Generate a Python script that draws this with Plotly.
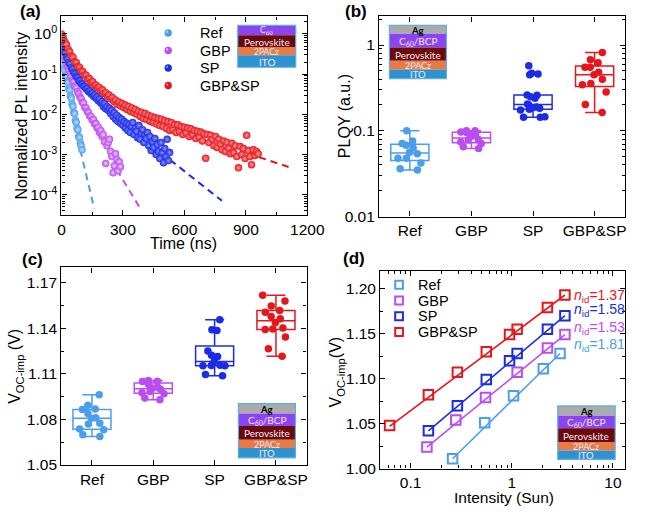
import plotly.graph_objects as go

W, H = 646, 515
FONT = "Liberation Sans"

NAMES = ["Ref", "GBP", "SP", "GBP&SP"]
COLORS = ["#4A9EEA", "#BB4CEE", "#1B2BE6", "#E5161C"]
TINTS = ["#BFE0FF", "#EFCBFF", "#8C96FF", "#FF9E9E"]

# ---------------- (a) TRPL decay ----------------
T_REF = [0, 4, 8, 12, 16, 20, 24, 28, 32, 36, 40, 44, 48, 52, 56, 60, 64, 68, 72, 76,
         80, 84, 88, 92, 96, 100]
PL_REF = [2.63e-1, 2.00e-1, 1.82e-1, 1.38e-1, 1.26e-1, 9.55e-2, 8.91e-2, 6.61e-2, 6.17e-2, 4.47e-2,
          3.98e-2, 2.82e-2, 2.51e-2, 1.78e-2, 1.58e-2, 1.12e-2, 1.05e-2, 7.08e-3, 6.31e-3, 4.47e-3,
          4.17e-3, 2.82e-3, 2.63e-3, 1.91e-3, 1.66e-3, 1.32e-3]

T_GBP = [0, 6, 12, 18, 24, 30, 36, 42, 48, 54, 60, 66, 72, 78, 84, 90, 96, 102, 108, 114,
         120, 126, 132, 138, 144, 150, 156, 162, 168, 174, 180, 186, 192, 198, 204, 210, 216,
         222, 228, 234, 240, 246, 252, 258, 264, 270, 276, 282, 288]
PL_GBP = [4.17e-1, 3.24e-1, 2.82e-1, 2.19e-1, 1.95e-1, 1.48e-1, 1.32e-1, 1.00e-1, 8.91e-2,
          7.08e-2, 6.46e-2, 5.13e-2, 4.68e-2, 3.63e-2, 3.24e-2, 2.69e-2, 2.45e-2, 2.00e-2, 1.91e-2,
          1.48e-2, 1.45e-2, 1.17e-2, 1.12e-2, 9.12e-3, 8.91e-3, 7.24e-3, 7.41e-3, 5.75e-3, 5.89e-3,
          4.57e-3, 4.79e-3, 3.55e-3, 3.98e-3, 2.82e-3, 3.16e-3, 2.09e-3, 6.03e-4, 1.66e-3, 2.00e-3,
          2.40e-3, 1.20e-3, 8.91e-4, 3.55e-4, 5.25e-4, 1.05e-3, 7.59e-4, 3.98e-4, 6.61e-4, 5.01e-4]

T_SP = [0, 6, 12, 18, 24, 30, 36, 42, 48, 54, 60, 66, 72, 78, 84, 90, 96, 102, 108, 114,
        120, 126, 132, 138, 144, 150, 156, 162, 168, 174, 180, 186, 192, 198, 204, 210, 216,
        222, 228, 234, 240, 246, 252, 258, 264, 270, 276, 282, 288, 294, 300, 306, 312, 318,
        324, 330, 336, 342, 348, 354, 360, 366, 372, 378, 384, 390, 396, 402, 408, 414, 420,
        426, 432, 438, 444, 450, 456, 462, 468, 474, 480, 486, 492, 498, 504, 510, 516, 522, 528]
PL_SP = [6.31e-1, 5.13e-1, 3.89e-1, 3.39e-1, 2.69e-1, 2.40e-1, 1.95e-1, 1.78e-1, 1.45e-1, 1.32e-1,
         1.10e-1, 1.02e-1, 8.71e-2, 8.13e-2, 7.08e-2, 6.76e-2, 5.89e-2, 5.62e-2, 5.01e-2, 4.90e-2,
         4.27e-2, 4.37e-2, 3.72e-2, 3.80e-2, 3.24e-2, 3.39e-2, 2.82e-2, 3.02e-2, 2.51e-2, 2.69e-2,
         2.19e-2, 2.40e-2, 1.91e-2, 2.09e-2, 1.58e-2, 1.86e-2, 1.38e-2, 1.58e-2, 1.26e-2, 1.41e-2,
         1.05e-2, 1.26e-2, 8.91e-3, 1.10e-2, 7.59e-3, 9.55e-3, 6.61e-3, 8.32e-3, 6.03e-3, 7.59e-3,
         5.37e-3, 6.61e-3, 4.57e-3, 6.03e-3, 3.98e-3, 5.62e-3, 3.55e-3, 5.01e-3, 6.31e-3, 3.16e-3,
         4.47e-3, 3.80e-3, 2.63e-3, 5.25e-3, 2.40e-3, 3.47e-3, 4.17e-3, 2.00e-3, 3.02e-3, 2.51e-3,
         3.55e-3, 1.66e-3, 2.82e-3, 1.26e-3, 2.09e-3, 1.51e-3, 2.51e-3, 1.00e-3, 1.78e-3, 1.20e-3,
         7.94e-4, 2.00e-3, 1.12e-3, 6.31e-4, 1.41e-3, 8.91e-4, 2.40e-3, 7.08e-4, 1.12e-3]

T_GS = [0, 8, 16, 24, 32, 40, 48, 56, 64, 72, 80, 88, 96, 104, 112, 120, 128, 136, 144, 152,
        160, 168, 176, 184, 192, 200, 208, 216, 224, 232, 240, 248, 256, 264, 272, 280, 288, 296,
        304, 312, 320, 328, 336, 344, 352, 360, 368, 376, 384, 392, 400, 408, 416, 424, 432, 440,
        448, 456, 464, 472, 480, 488, 496, 504, 512, 520, 528, 536, 544, 552, 560, 568, 576, 584,
        592, 600, 608, 616, 624, 632, 640, 648, 656, 664, 672, 680, 688, 696, 704, 712, 720, 728,
        736, 744, 752, 760, 768, 776, 784, 792, 800, 808, 816, 824, 832, 840, 848, 856, 864, 872,
        880, 888, 896, 904, 912, 920, 928, 936, 944, 952, 960]
PL_GS = [1.00, 8.32e-1, 6.31e-1, 5.50e-1, 4.17e-1, 3.63e-1, 2.82e-1, 2.63e-1, 2.04e-1, 1.95e-1,
         1.55e-1, 1.48e-1, 1.20e-1, 1.17e-1, 9.55e-2, 9.33e-2, 7.59e-2, 7.76e-2, 6.31e-2, 6.46e-2,
         5.25e-2, 5.37e-2, 4.57e-2, 4.68e-2, 3.89e-2, 4.07e-2, 3.31e-2, 3.47e-2, 2.82e-2, 3.02e-2,
         2.40e-2, 2.63e-2, 2.09e-2, 2.29e-2, 1.78e-2, 2.04e-2, 1.62e-2, 1.86e-2, 1.48e-2, 1.70e-2,
         1.32e-2, 1.58e-2, 1.20e-2, 1.45e-2, 1.10e-2, 1.32e-2, 1.00e-2, 1.20e-2, 8.91e-3, 1.12e-2,
         7.94e-3, 1.05e-2, 7.41e-3, 9.55e-3, 6.76e-3, 8.91e-3, 6.31e-3, 8.32e-3, 5.75e-3, 7.94e-3,
         5.25e-3, 7.59e-3, 5.01e-3, 6.92e-3, 4.47e-3, 6.61e-3, 3.98e-3, 6.31e-3, 4.17e-3, 5.62e-3,
         3.55e-3, 5.50e-3, 3.80e-3, 5.01e-3, 3.16e-3, 4.79e-3, 3.47e-3, 4.57e-3, 2.82e-3, 4.37e-3,
         3.16e-3, 3.98e-3, 2.51e-3, 3.80e-3, 2.75e-3, 3.63e-3, 2.19e-3, 3.31e-3, 8.13e-4, 3.16e-3,
         2.00e-3, 3.02e-3, 2.40e-3, 1.66e-3, 2.82e-3, 1.51e-3, 2.40e-3, 1.82e-3, 1.32e-3, 2.19e-3,
         1.20e-3, 2.00e-3, 1.45e-3, 1.05e-3, 1.91e-3, 1.12e-3, 1.66e-3, 8.91e-4, 4.68e-4, 1.58e-3,
         1.00e-3, 1.41e-3, 7.94e-4, 3.02e-3, 1.26e-3, 8.91e-4, 5.62e-4, 1.32e-3, 9.55e-4, 1.20e-3,
         1.05e-3]

# dashed fit tails (start / end)
FIT_REF_T, FIT_REF_PL = [92, 160], [1.3e-3, 4.5e-5]
FIT_GBP_T, FIT_GBP_PL = [270, 381], [4.2e-4, 4.9e-5]
FIT_SP_T, FIT_SP_PL = [530, 783], [7.4e-4, 7.1e-5]
FIT_GS_T, FIT_GS_PL = [965, 1121], [8.6e-4, 4.7e-4]

# ---------------- (b) PLQY ----------------
PLQY_REF = [0.035, 0.036, 0.042, 0.048, 0.048, 0.054, 0.056, 0.063, 0.068, 0.071, 0.076, 0.100]
PLQY_GBP = [0.062, 0.065, 0.071, 0.074, 0.078, 0.079, 0.086, 0.091, 0.095, 0.097, 0.100, 0.100]
PLQY_SP = [0.144, 0.144, 0.146, 0.175, 0.178, 0.183, 0.186, 0.190, 0.200, 0.205, 0.240, 0.250,
           0.260, 0.262, 0.450, 0.460, 0.470, 0.574]
PLQY_GS = [0.163, 0.203, 0.284, 0.344, 0.355, 0.400, 0.449, 0.480, 0.550, 0.550, 0.620, 0.673, 0.817]

# ---------------- (c) VOC-imp ----------------
VOC_REF = [1.0688, 1.0699, 1.0731, 1.0736, 1.0770, 1.0775, 1.0807, 1.0811, 1.0839, 1.0865,
           1.0868, 1.0893, 1.0963]
VOC_GBP = [1.0930, 1.0941, 1.0969, 1.0976, 1.0984, 1.0998, 1.1006, 1.1012, 1.1030, 1.1050,
           1.1051, 1.1056]
VOC_SP = [1.1088, 1.1095, 1.1153, 1.1153, 1.1155, 1.1157, 1.1181, 1.1214, 1.1222, 1.1250,
          1.1385, 1.1390, 1.1456]
VOC_GS = [1.1215, 1.1265, 1.1343, 1.1391, 1.1395, 1.1402, 1.1438, 1.1462, 1.1477, 1.1505,
          1.1516, 1.1547, 1.1579, 1.1618]

# ---------------- (d) VOC-imp vs intensity ----------------
I_REF = [0.26, 0.54, 1.04, 2.05, 3.0]
V_REF = [1.011, 1.051, 1.081, 1.111, 1.128]
I_GBP = [0.145, 0.28, 0.55, 1.13, 2.25, 3.35]
V_GBP = [1.024, 1.054, 1.079, 1.107, 1.134, 1.149]
I_SP = [0.15, 0.29, 0.56, 0.95, 1.13, 2.25, 3.35]
V_SP = [1.042, 1.070, 1.099, 1.120, 1.128, 1.155, 1.170]
I_GS = [0.062, 0.15, 0.29, 0.56, 0.95, 1.13, 2.25, 3.35]
V_GS = [1.048, 1.082, 1.107, 1.130, 1.149, 1.155, 1.179, 1.193]
FIT_D_I = [[0.26, 3.0], [0.145, 3.35], [0.15, 3.35], [0.062, 3.35]]
FIT_D_V = [[1.011, 1.128], [1.024, 1.149], [1.042, 1.170], [1.047, 1.193]]
NID = ["1.81", "1.53", "1.58", "1.37"]

A_T = [T_REF, T_GBP, T_SP, T_GS]
A_PL = [PL_REF, PL_GBP, PL_SP, PL_GS]
for t, v in zip(A_T, A_PL):
    assert len(t) == len(v), (len(t), len(v))


def px(x):
    return x / W


def py(y):
    return 1 - y / H


fig = go.Figure()

# (a) dashed fits then points
for t, v, c in zip([FIT_REF_T, FIT_GBP_T, FIT_SP_T, FIT_GS_T],
                   [FIT_REF_PL, FIT_GBP_PL, FIT_SP_PL, FIT_GS_PL], COLORS):
    fig.add_trace(go.Scatter(x=t, y=v, mode="lines", xaxis="x", yaxis="y",
                             line=dict(color=c, width=2, dash="7px,5px"), hoverinfo="skip"))
for t, v, c, tint, n in zip(A_T, A_PL, COLORS, TINTS, NAMES):
    fig.add_trace(go.Scatter(x=t, y=v, mode="markers", name=n, xaxis="x", yaxis="y",
                             marker=dict(size=7.5, color=c, line=dict(width=0),
                                         gradient=dict(type="radial", color=tint))))

# (b) PLQY boxes
for n, vals, c in zip(NAMES, [PLQY_REF, PLQY_GBP, PLQY_SP, PLQY_GS], COLORS):
    fig.add_trace(go.Box(y=vals, name=n, x0=n, xaxis="x2", yaxis="y2", boxpoints="all",
                         jitter=0.8, pointpos=0, width=0.62, whiskerwidth=0.5,
                         fillcolor="rgba(255,255,255,0)", line=dict(color=c, width=1.5),
                         marker=dict(color=c, size=7.5, line=dict(width=0))))

# (c) VOC boxes
for n, vals, c in zip(NAMES, [VOC_REF, VOC_GBP, VOC_SP, VOC_GS], COLORS):
    fig.add_trace(go.Box(y=vals, name=n, x0=n, xaxis="x3", yaxis="y3", boxpoints="all",
                         jitter=0.8, pointpos=0, width=0.62, whiskerwidth=0.5,
                         fillcolor="rgba(255,255,255,0)", line=dict(color=c, width=1.5),
                         marker=dict(color=c, size=7.5, line=dict(width=0))))

# (d) fits + squares
for fi, fv, c in zip(FIT_D_I, FIT_D_V, COLORS):
    fig.add_trace(go.Scatter(x=fi, y=fv, mode="lines", xaxis="x4", yaxis="y4",
                             line=dict(color=c, width=1.6), hoverinfo="skip"))
for xi, yv, c, n in zip([I_REF, I_GBP, I_SP, I_GS], [V_REF, V_GBP, V_SP, V_GS], COLORS, NAMES):
    fig.add_trace(go.Scatter(x=xi, y=yv, mode="markers", name=n, xaxis="x4", yaxis="y4",
                             marker=dict(symbol="square-open", size=9.5, color=c,
                                         line=dict(width=2, color=c))))

TF = dict(family=FONT, size=15.5, color="black")


def axis(**kw):
    d = dict(showline=True, linecolor="black", linewidth=1.3, mirror="ticks", ticks="inside",
             ticklen=5, tickwidth=1.2, tickcolor="black", showgrid=False, zeroline=False,
             tickfont=TF)
    d.update(kw)
    return d


def minor(dt):
    return dict(ticks="inside", ticklen=3, tickwidth=1, tickcolor="black", showgrid=False, dtick=dt)


fig.update_layout(
    width=W, height=H, margin=dict(l=0, r=0, t=0, b=0),
    paper_bgcolor="white", plot_bgcolor="white", showlegend=False,
    font=dict(family=FONT, size=15, color="black"),
    xaxis=axis(domain=[px(59.5), px(314)], anchor="y", range=[0, 1200], tick0=0, dtick=300,
               minor=minor(150)),
    yaxis=axis(domain=[py(218.3), py(16.7)], anchor="x", type="log", range=[-4.5, 0.435],
               tickvals=[1e-4, 1e-3, 1e-2, 1e-1, 1],
               ticktext=["10<sup>-4</sup>", "10<sup>-3</sup>", "10<sup>-2</sup>",
                         "10<sup>-1</sup>", "10<sup>0</sup>"],
               minor=minor("D1")),
    xaxis2=axis(domain=[px(388.3), px(643.3)], anchor="y2", type="category",
                range=[-0.5, 3.5]),
    yaxis2=axis(domain=[py(220), py(16.7)], anchor="x2", type="log", range=[-2, 0.333],
                tickvals=[0.01, 0.1, 1], ticktext=["0.01", "0.1", "1"], minor=minor("D1")),
    xaxis3=axis(domain=[px(59.3), px(313.3)], anchor="y3", type="category",
                range=[-0.5, 3.5]),
    yaxis3=axis(domain=[py(472.3), py(271.7)], anchor="x3", range=[1.05, 1.18], tick0=1.05,
                dtick=0.03, tickformat=".2f", minor=minor(0.015)),
    xaxis4=axis(domain=[px(389.5), px(643)], anchor="y4", type="log", range=[-1.3, 1.12],
                tickvals=[0.1, 1, 10], ticktext=["0.1", "1", "10"], minor=minor("D1")),
    yaxis4=axis(domain=[py(476), py(275)], anchor="x4", range=[1.0, 1.22], tick0=1.0,
                dtick=0.05, tickformat=".2f", minor=minor(0.025)),
)

ann = []
shapes = []


def text(t, x, y, size=16, color="black", anchor="center", angle=0, family=FONT):
    ann.append(dict(text=t, x=px(x), y=py(y), xref="paper", yref="paper", showarrow=False,
                    xanchor=anchor, yanchor="middle", textangle=angle, borderpad=0,
                    font=dict(family=family, size=size, color=color)))


# panel labels
text("<b>(a)</b>", 27, 12, 17)
text("<b>(b)</b>", 364, 12, 17)
text("<b>(c)</b>", 30, 264, 17)
text("<b>(d)</b>", 362, 263, 17)

# axis titles
text("Normalized PL intensity", 18.5, 117.5, 16, angle=-90)
text("Time (ns)", 186, 247, 16)
text("PLQY (a.u.)", 352, 118, 16, angle=-90)
text("V<sub>OC-imp</sub> (V)", 12, 372, 16, angle=-90)
text("V<sub>OC-imp</sub>(V)", 344, 378, 16, angle=-90)
text("Intensity (Sun)", 518, 505, 15.5)

# legend (a)
for i, (n, c) in enumerate(zip(NAMES, COLORS)):
    cy = 33.5 + i * 17.8
    r = 3.8
    shapes.append(dict(type="circle", xref="paper", yref="paper", x0=px(170 - r), x1=px(170 + r),
                       y0=py(cy + r), y1=py(cy - r), fillcolor=c, line=dict(width=0)))
    shapes.append(dict(type="circle", xref="paper", yref="paper", x0=px(167.8), x1=px(170),
                       y0=py(cy), y1=py(cy - 2.2), fillcolor=TINTS[i], line=dict(width=0)))
    text(n, 201.5, cy, 14.5, anchor="left")

# legend (d)
for i, (n, c) in enumerate(zip(NAMES, COLORS)):
    cy = 289.3 + i * 16
    h = 4
    shapes.append(dict(type="rect", xref="paper", yref="paper", x0=px(409 - h), x1=px(409 + h),
                       y0=py(cy + h), y1=py(cy - h), fillcolor="rgba(0,0,0,0)",
                       line=dict(color=c, width=2)))
    text(n, 428, cy, 14.5, anchor="left")

# ideality labels (d)
NID_Y = [350, 332.7, 315, 300.7]
for lab, c, yy in zip(NID, COLORS, NID_Y):
    text("<i>n</i><sub>id</sub>=" + lab, 589, yy, 14, color=c, anchor="left")

# device insets
AG, C60C, PERO, PACZ, ITOC, BORDER = "#ABABAB", "#8B44F2", "#6A0A0A", "#E97A44", "#2E92CE", "#5AAEEA"
LT = "#F6E9F6"


def stack(x0, x1, layers):
    for (y0, y1, col, t, tc, sz, bold) in layers:
        shapes.append(dict(type="rect", xref="paper", yref="paper", x0=px(x0), x1=px(x1),
                           y0=py(y1), y1=py(y0), fillcolor=col, line=dict(width=0), layer="above"))
        text("<b>" + t + "</b>" if bold else t, (x0 + x1) / 2, (y0 + y1) / 2 + 0.5, sz, color=tc,
             family="Lato")
    shapes.append(dict(type="rect", xref="paper", yref="paper", x0=px(x0), x1=px(x1),
                       y0=py(layers[-1][1]), y1=py(layers[0][0]), fillcolor="rgba(0,0,0,0)",
                       line=dict(color=BORDER, width=1.2), layer="above"))


stack(242, 302, [(25.7, 35.7, C60C, "C<sub>60</sub>", LT, 8.5, False),
                 (35.7, 47.7, PERO, "Perovskite", LT, 10, False),
                 (47.7, 56, PACZ, "2PACz", LT, 8.5, False),
                 (56, 68.3, ITOC, "ITO", LT, 10, False)])
stack(399, 458, [(25.7, 34.3, AG, "Ag", "black", 9.5, True),
                 (34.3, 48.3, C60C, "C<sub>60</sub>/BCP", LT, 10, False),
                 (48.3, 61.7, PERO, "Perovskite", LT, 10, False),
                 (61.7, 70.7, PACZ, "2PACz", LT, 9, False),
                 (70.7, 80, ITOC, "ITO", LT, 9.5, False)])
stack(242.7, 301.7, [(410, 420, AG, "Ag", "black", 9.5, True),
                     (420, 432.7, C60C, "C<sub>60</sub>/BCP", LT, 10, False),
                     (432.7, 446.7, PERO, "Perovskite", LT, 10, False),
                     (446.7, 455, PACZ, "2PACz", LT, 9, False),
                     (455, 465, ITOC, "ITO", LT, 9.5, False)])
stack(573.3, 632.7, [(412.3, 422.3, AG, "Ag", "black", 9.5, True),
                     (422.3, 435, C60C, "C<sub>60</sub>/BCP", LT, 10, False),
                     (435, 449, PERO, "Perovskite", LT, 10, False),
                     (449, 457.7, PACZ, "2PACz", LT, 9, False),
                     (457.7, 466.7, ITOC, "ITO", LT, 9.5, False)])

fig.update_layout(annotations=ann, shapes=shapes)
fig.write_html("out.html")
